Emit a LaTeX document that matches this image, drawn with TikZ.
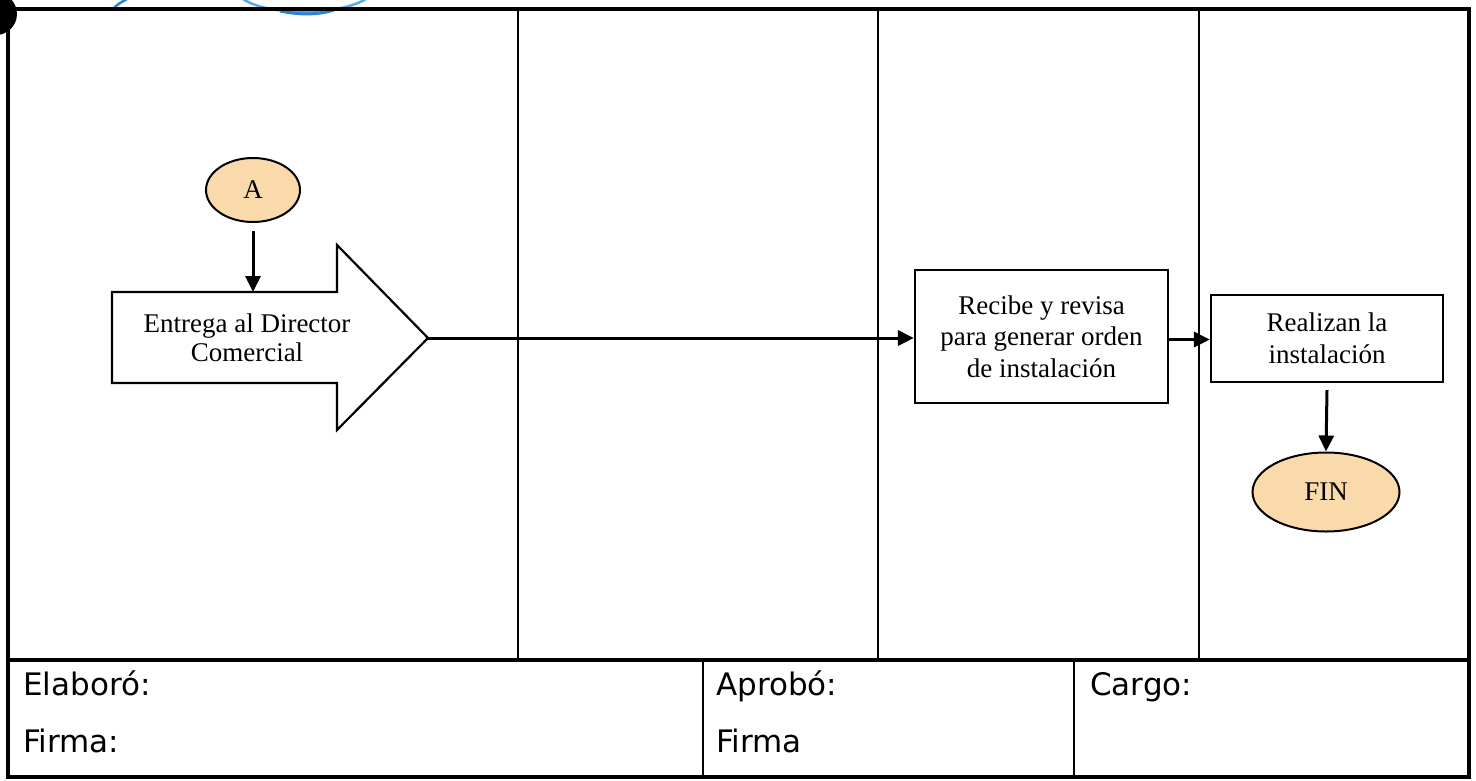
\documentclass[tikz,border=0pt]{standalone}
\usepackage{fontspec}
\setmainfont{Liberation Serif}
\newfontfamily\footfont{DejaVu Sans}
\usetikzlibrary{arrows.meta,shapes.geometric,calc}
\definecolor{peach}{RGB}{250,218,170}
\definecolor{logoblue}{RGB}{40,130,215}
\definecolor{logolight}{RGB}{90,170,230}
\tikzset{
  frame/.style={line width=3.5pt,black},
  lane/.style={line width=2.2pt,black},
  terminal/.style={ellipse,draw,line width=2pt,fill=peach,inner sep=0pt,
    font=\fontsize{27}{30}\selectfont},
  procbox/.style={rectangle,draw,line width=2.2pt,fill=white,align=center,inner sep=0pt,
    font=\fontsize{27}{31.5}\selectfont},
  flow/.style={line width=3pt,-{Triangle[length=16pt,width=15pt]}},
  foottext/.style={anchor=base west,inner sep=0pt,font=\footfont\fontsize{31}{34}\selectfont},
}
\begin{document}
\begin{tikzpicture}[x=1pt,y=-1pt]
\useasboundingbox (0,0) rectangle (1476,780);
% logo fragments and blot
\draw[logoblue,line width=2.5pt] (113,9) .. controls (118,4) .. (127,-1);
\draw[logolight,line width=2.5pt] (243,-1) .. controls (268,16) and (338,16) .. (366,-1);
\draw[logoblue,line width=3pt] (280,11) .. controls (300,15) and (318,15) .. (334,10);
\fill[black] (-4,14) circle (21);
% outer frame and lanes
\draw[frame] (8,9) rectangle (1469,777);
\draw[frame] (8,660) -- (1469,660);
\draw[lane] (518,9) -- (518,660);
\draw[lane] (878,9) -- (878,660);
\draw[lane] (1199,9) -- (1199,660);
\draw[lane] (703,660) -- (703,777);
\draw[lane] (1074,660) -- (1074,777);
% footer texts
\node[foottext] (elaboro) at (23,695) {Elaboró:};
\node[foottext] (firma1) at (23,752) {Firma:};
\node[foottext] (aprobo) at (716,695) {Aprobó:};
\node[foottext] (firma2) at (716,752) {Firma};
\node[foottext] (cargo) at (1090,695) {Cargo:};
% nodes
\node[terminal,minimum width=94pt,minimum height=64pt] (A) at (253,190) {A};
\draw[line width=2.2pt,fill=white] (112,292) -- (337,292) -- (337,245) -- (428,338)
  -- (337,430) -- (337,383) -- (112,383) -- cycle;
\coordinate (entregatop) at (253,292);
\coordinate (tip) at (428,338);
\node[align=center,inner sep=0pt,font=\fontsize{27}{29}\selectfont] (entrega) at (247,338)
  {Entrega al Director\\Comercial};
\node[procbox,minimum width=253pt,minimum height=133pt] (recibe) at (1041.5,336.5)
  {Recibe y revisa\\para generar orden\\de instalación};
\node[procbox,minimum width=232pt,minimum height=87pt] (realizan) at (1327,338.5)
  {Realizan la\\instalación};
\node[terminal,minimum width=147pt,minimum height=79pt] (fin) at (1326,492) {FIN};
% connectors
\draw[flow] ($(A.south)+(0,8)$) -- (entregatop);
\draw[flow] (tip) -- (tip -| recibe.west);
\draw[flow] ($(recibe.east)+(0,3)$) -- ($(recibe.east -| realizan.west)+(0,3)$);
\draw[flow] ($(realizan.south)+(0,7)$) -- (fin.north);
\end{tikzpicture}
\end{document}
